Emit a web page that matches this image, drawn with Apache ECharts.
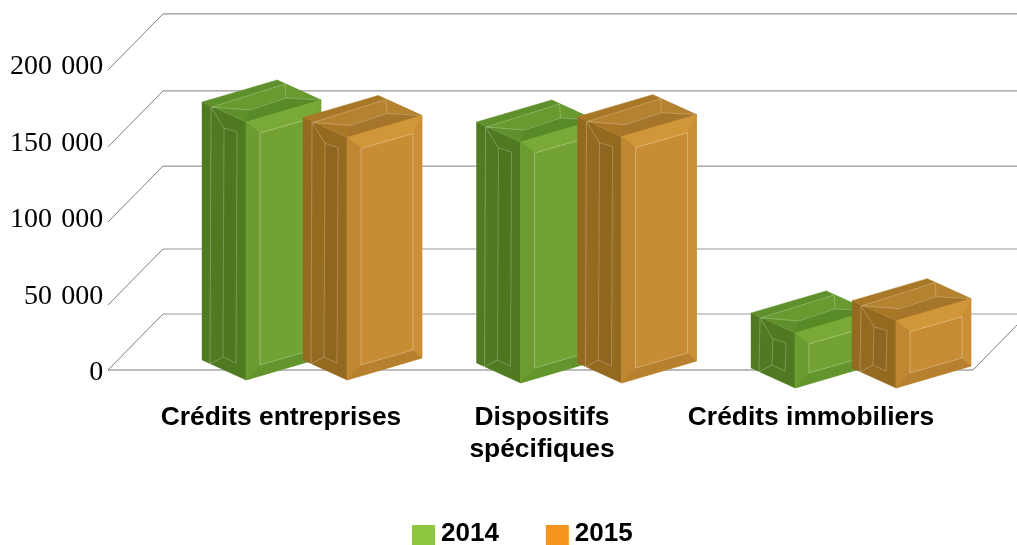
<!DOCTYPE html>
<html>
<head>
<meta charset="utf-8">
<style>html,body{margin:0;padding:0;background:#fff}#c{width:1017px;height:545px}</style>
<script src="https://cdn.jsdelivr.net/npm/echarts@6/dist/echarts.min.js"></script>
</head>
<body>
<div id="c"></div>
<script>
const categories = ['Crédits entreprises', 'Dispositifs\nspécifiques', 'Crédits immobiliers'];
const values2014 = [168600, 157500, 36000];
const values2015 = [158500, 161000, 44000];
const wallLevels = [0, 42500, 96700, 145800, 196100];

const floorDrop = [7, 10, 15];
const wallShift = -3;
const palette = {
  green: {front:'#72A233', top:'#79A936', bottom:'#63942D', left:'#6C9C31', right:'#74A434',
          side:'#4F7A22', sideIn:'#4C7620', rim:'#5F902B', panel:'#689A2F', dark:'#598A28'},
  orange:{front:'#C88D34', top:'#D19638', bottom:'#B7802F', left:'#BF8731', right:'#CA9036',
          side:'#946A20', sideIn:'#8F661F', rim:'#A97827', panel:'#B5822F', dark:'#A4752A'}
};
const LINE_FRONT = 'rgba(255,255,255,0.3)';
const LINE_SIDE = 'rgba(255,255,255,0.24)';

function box(params, api, c, dx) {
  const idx = api.value(0);
  const drop = floorDrop[idx];
  const p = api.coord([idx, api.value(1)]);
  const p0 = api.coord([idx, 0]);
  const X = p[0] + dx, TY = p[1] + drop, FY = p0[1] + drop;
  const T = (a, b) => [X + a, TY + b];
  const F = (a, b) => [X + a, FY + b];
  const poly = (pts, fill) => ({type:'polygon', shape:{points:pts}, style:{fill:fill, stroke:fill, lineWidth:0.4}});
  const line = (pts, col) => ({type:'polyline', shape:{points:pts}, style:{fill:null, stroke:col, lineWidth:1}});
  const ch = [];
  // side face
  ch.push(poly([T(0,0),T(-44,-20),F(-44,-20),F(0,0)], c.side));
  ch.push(poly([T(-22,6),T(-9,10),F(-10,-17),F(-23,-23)], c.sideIn));
  ch.push(line([T(-35,-15),F(-36,-16),F(-23,-23)], LINE_SIDE));
  ch.push(line([T(-35,-15),T(-22,6),T(-9,10),F(-10,-17),F(-23,-23),T(-22,6)], LINE_SIDE));
  // top face
  ch.push(poly([T(0,0),T(-44,-20),T(31,-42),T(75,-22)], c.rim));
  ch.push(poly([T(-34,-15),T(39,-38),T(40,-24),T(3,-12)], c.panel));
  ch.push(poly([T(39,-38),T(31,-42),T(75,-22),T(40,-24)], c.panel));
  ch.push(poly([T(3,-12),T(40,-24),T(75,-22),T(0,0)], c.dark));
  ch.push(line([T(-34,-15),T(39,-38),T(40,-24),T(74,-22)], LINE_SIDE));
  ch.push(line([T(-34,-15),T(4,-12),T(40,-24)], LINE_SIDE));
  // front face
  ch.push(poly([T(0,0),T(75,-22),F(75,-22),F(0,0)], c.front));
  ch.push(poly([T(0,0),T(75,-22),T(66,-4),T(14,11)], c.top));
  ch.push(poly([F(0,0),F(75,-22),F(66,-30),F(14,-15)], c.bottom));
  ch.push(poly([T(0,0),T(14,11),F(14,-15),F(0,0)], c.left));
  ch.push(poly([T(75,-22),T(66,-4),F(66,-30),F(75,-22)], c.right));
  ch.push(line([T(14,11),T(66,-4),F(66,-30),F(14,-15),T(14,11)], LINE_FRONT));
  return {type:'group', children:ch};
}

function wall(params, api) {
  const v = api.value(1);
  const y = api.coord([0, v])[1] + wallShift;
  const ch = [];
  const lx = 108, bx = 163, by = y - 56;
  ch.push({type:'line', shape:{x1:lx,y1:y,x2:bx,y2:by}, style:{stroke:'#808080', lineWidth:1}});
  ch.push({type:'line', shape:{x1:bx,y1:by,x2:1017,y2:by}, style:{stroke:'#999999', lineWidth:1.2}});
  if (v === 0) {
    ch.push({type:'line', shape:{x1:lx,y1:y,x2:973,y2:y}, style:{stroke:'#7a7a7a', lineWidth:1.2}});
    ch.push({type:'line', shape:{x1:973,y1:y,x2:1017,y2:y-45}, style:{stroke:'#808080', lineWidth:1}});
  }
  return {type:'group', children:ch};
}

const chart = echarts.init(document.getElementById('c'), null, {renderer:'canvas'});
chart.setOption({
  animation:false,
  backgroundColor:'#fff',
  grid:[
    {left:159.25, width:823.5, top:67, height:306},
    {left:148.5, width:795, top:64, height:306}
  ],
  xAxis:[
    {type:'category', gridIndex:0, data:categories, axisLine:{show:false}, axisTick:{show:false}, axisLabel:{show:false}},
    {type:'category', gridIndex:1, axisLine:{show:false}, axisTick:{show:false},
     data:categories.map((n,i)=> i===1 ? {value:n, textStyle:{padding:[0,8,0,0]}} : n),
     axisLabel:{show:true, interval:0, margin:32, fontFamily:'Liberation Sans', fontWeight:'bold', fontSize:26.4, lineHeight:32, color:'#000', verticalAlign:'top'}}
  ],
  yAxis:[
    {type:'value', gridIndex:0, min:0, max:200000, interval:50000, splitLine:{show:false}, axisLine:{show:false}, axisTick:{show:false},
     axisLabel:{margin:56, fontFamily:'Liberation Serif', fontSize:28, color:'#000',
       formatter:v=>String(v).replace(/\B(?=(\d{3})+$)/g,'\u2004')}},
    {type:'value', gridIndex:1, min:0, max:200000, show:false}
  ],
  legend:{left:412, top:521, itemWidth:23, itemHeight:22, itemGap:47, padding:0, selectedMode:false,
    formatter:'{t|{name}}',
    textStyle:{rich:{t:{fontFamily:'Liberation Sans', fontWeight:'bold', fontSize:26, color:'#000', padding:[0,0,4,1]}}},
    data:[{name:'2014',icon:'rect'},{name:'2015',icon:'rect'}]},
  series:[
    {type:'custom', name:'walls', xAxisIndex:0, yAxisIndex:0, silent:true, clip:false, z:1,
     data:wallLevels.map(v=>[0,v]), encode:{x:0,y:1}, renderItem:wall},
    {type:'custom', name:'2014', xAxisIndex:0, yAxisIndex:0, clip:false, z:2, itemStyle:{color:'#8DC63F'},
     data:values2014.map((v,i)=>[i,v]), encode:{x:0,y:1},
     renderItem:(p,a)=>box(p,a,palette.green,-50.5)},
    {type:'custom', name:'2015', xAxisIndex:0, yAxisIndex:0, clip:false, z:3, itemStyle:{color:'#F7941E'},
     data:values2015.map((v,i)=>[i,v]), encode:{x:0,y:1},
     renderItem:(p,a)=>box(p,a,palette.orange,50.5)}
  ]
});
</script>
</body>
</html>
